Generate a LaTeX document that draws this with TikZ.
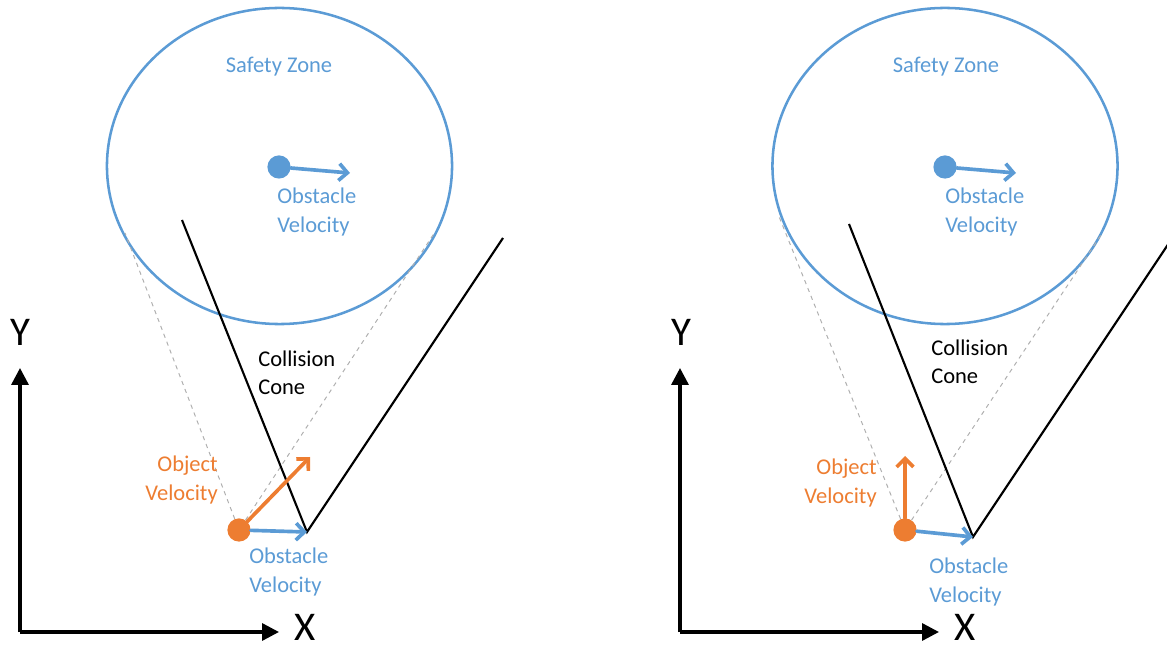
\documentclass[tikz,border=0pt]{standalone}
\usepackage{fontspec}
\setmainfont{Carlito}
\usetikzlibrary{shapes.geometric, arrows.meta, positioning}
\definecolor{zoneblue}{HTML}{5B9BD5}
\definecolor{objorange}{HTML}{ED7D31}
\definecolor{tangentgray}{HTML}{AFAFAF}
\tikzset{
    zone/.style={ellipse, draw=zoneblue, line width=1.8pt, minimum width=8.625cm, minimum height=7.9cm, inner sep=0pt},
    obstacle/.style={circle, fill=zoneblue, minimum size=0.58cm, inner sep=0pt},
    object/.style={circle, fill=objorange, minimum size=0.58cm, inner sep=0pt},
    obs vel/.style={draw=zoneblue, line width=2.6pt, line cap=round, -{Straight Barb[length=6pt,width=12pt]}},
    obj vel/.style={draw=objorange, line width=2.6pt, line cap=round, -{Straight Barb[length=6pt,width=12pt]}},
    cone/.style={draw, line width=1.5pt},
    tangent/.style={draw=tangentgray, dashed, line width=0.7pt},
    axis/.style={draw, line width=2.4pt, -{Triangle[length=12pt,width=12pt]}},
    label text/.style={font=\fontsize{16}{20}\selectfont, inner sep=0pt},
    blue text/.style={label text, text=zoneblue, align=left},
    orange text/.style={label text, text=objorange, align=right},
    black text/.style={label text, align=left},
    axis text/.style={font=\fontsize{29}{34}\selectfont, inner sep=0pt}
}

\begin{document}
\begin{tikzpicture}[x=0.025cm, y=-0.025cm]
    \useasboundingbox (0,0) rectangle (1167,649);

    % left panel
    \node[zone] (zoneL) at (279.5,166) {};
    \node[blue text, align=center] (safeL) at (279,67) {Safety Zone};
    \node[obstacle] (obsL) at (279,167) {};
    \coordinate (obsvL) at (350,173);
    \node[blue text, anchor=west] (obstxtL) at (277,212) {Obstacle\\Velocity};

    \node[object] (objL) at (239,530) {};
    \coordinate (apexL) at (307,532);
    \coordinate (coneLa) at (182,220);
    \coordinate (coneLb) at (503,238);
    \coordinate (tanLa) at (125,233);
    \coordinate (tanLb) at (435,232);
    \coordinate (objvL) at (310,457);

    \draw[tangent] (objL) -- (tanLa);
    \draw[tangent] (objL) -- (tanLb);
    \draw[cone] (coneLa) -- (apexL) -- (coneLb);
    \draw[obs vel] (obsL) -- (obsvL);
    \draw[obs vel] (objL) -- (apexL);
    \draw[obj vel] (objL) -- (objvL);

    \node[black text, anchor=west] (collL) at (258,373) {Collision\\Cone};
    \node[orange text, anchor=east] (objtxtL) at (218,480) {Object\\Velocity};
    \node[blue text, anchor=west] (relL) at (249,572) {Obstacle\\Velocity};

    \coordinate (originL) at (20,632);
    \coordinate (yendL) at (20,368);
    \coordinate (xendL) at (279,632);
    \draw[axis] (originL) -- (yendL);
    \draw[axis] (originL) -- (xendL);
    \node[axis text] (ylabL) at (20,332) {Y};
    \node[axis text] (xlabL) at (305,627) {X};

    % right panel
    \node[zone] (zoneR) at (945,166) {};
    \node[blue text, align=center] (safeR) at (946,67) {Safety Zone};
    \node[obstacle] (obsR) at (945,167) {};
    \coordinate (obsvR) at (1016,173);
    \node[blue text, anchor=west] (obstxtR) at (945,212) {Obstacle\\Velocity};

    \node[object] (objR) at (905,530) {};
    \coordinate (apexR) at (973,537);
    \coordinate (coneRa) at (849,224);
    \coordinate (coneRb) at (1169,243);
    \coordinate (tanRa) at (778,214);
    \coordinate (tanRb) at (1103,232);
    \coordinate (objvR) at (905,456);

    \draw[tangent] (objR) -- (tanRa);
    \draw[tangent] (objR) -- (tanRb);
    \draw[cone] (coneRa) -- (apexR) -- (coneRb);
    \draw[obs vel] (obsR) -- (obsvR);
    \draw[obs vel] (objR) -- (apexR);
    \draw[obj vel] (objR) -- (objvR);

    \node[black text, anchor=west] (collR) at (931,362) {Collision\\Cone};
    \node[orange text, anchor=east] (objtxtR) at (877,483) {Object\\Velocity};
    \node[blue text, anchor=west] (relR) at (929,582) {Obstacle\\Velocity};

    \coordinate (originR) at (680,632);
    \coordinate (yendR) at (680,368);
    \coordinate (xendR) at (939,632);
    \draw[axis] (originR) -- (yendR);
    \draw[axis] (originR) -- (xendR);
    \node[axis text] (ylabR) at (681,332) {Y};
    \node[axis text] (xlabR) at (965,627) {X};
\end{tikzpicture}
\end{document}
